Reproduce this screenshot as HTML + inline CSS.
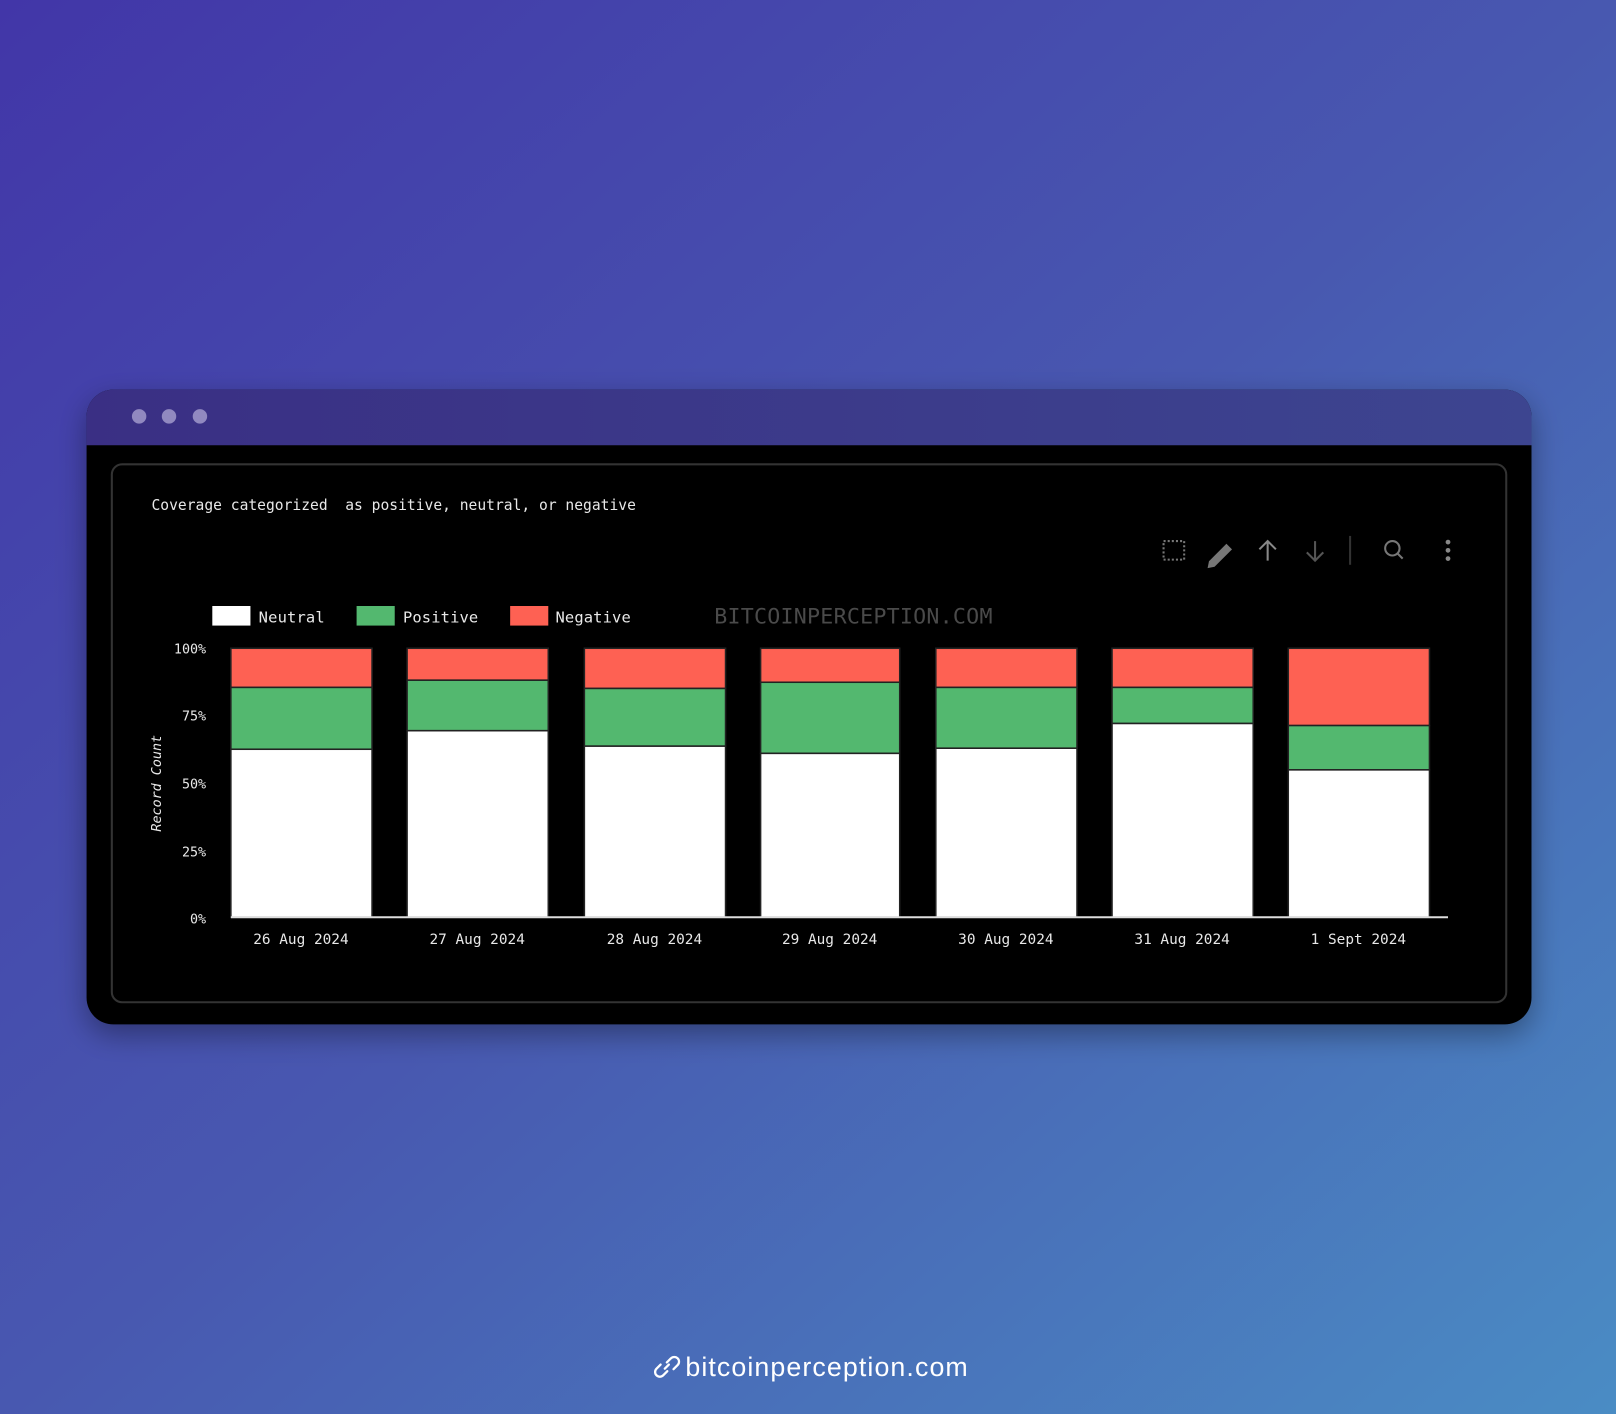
<!DOCTYPE html>
<html><head><meta charset="utf-8"><style>
html,body{margin:0;padding:0;width:1616px;height:1414px;overflow:hidden}
svg{display:block}
</style></head><body>
<svg width="1616" height="1414" viewBox="0 0 1568 1372" preserveAspectRatio="none" xmlns="http://www.w3.org/2000/svg">
<defs>
<linearGradient id="bg" x1="0" y1="0" x2="1" y2="1">
<stop offset="0" stop-color="#4236a8"/>
<stop offset="0.5" stop-color="#4858b0"/>
<stop offset="1" stop-color="#4a8cc4"/>
</linearGradient>
<linearGradient id="tb" x1="0" y1="0" x2="1" y2="0">
<stop offset="0" stop-color="#3a2f84"/>
<stop offset="1" stop-color="#3d4590"/>
</linearGradient>
<filter id="sh" x="-10%" y="-10%" width="120%" height="130%"><feDropShadow dx="0" dy="10" stdDeviation="14" flood-color="#000" flood-opacity="0.35"/></filter>
</defs>
<rect width="1568" height="1372" fill="url(#bg)"/>
<g filter="url(#sh)">
<rect x="84" y="378" width="1402" height="616" rx="26" fill="#000"/>
</g>
<path d="M84 432 V404 A26 26 0 0 1 110 378 H1460 A26 26 0 0 1 1486 404 V432 Z" fill="url(#tb)"/>
<circle cx="135" cy="404" r="7" fill="#9189c0"/>
<circle cx="164" cy="404" r="7" fill="#9189c0"/>
<circle cx="194" cy="404" r="7" fill="#9189c0"/>
<rect x="108.5" y="450.5" width="1353" height="522" rx="10" fill="none" stroke="#333" stroke-width="2"/>
<g font-family="'DejaVu Sans Mono','Liberation Mono',monospace" fill="#e8e8e8">
<text x="147" y="495" font-size="14.2" textLength="470">Coverage categorized&#160; as positive, neutral, or negative</text>
<g stroke="#777" fill="none" stroke-width="2">
<rect x="1129" y="525" width="20" height="18" stroke-dasharray="2 2"/>
<path d="M1174 545 L1190 529 L1194 533 L1178 549 L1173 550 Z" fill="#777"/>
<path d="M1230 544 V525 M1222 533 L1230 525 L1238 533" stroke="#888"/>
<path d="M1276 525 V544 M1268 536 L1276 544 L1284 536" stroke="#555"/>
<path d="M1310 520 V548" stroke="#333"/>
<circle cx="1351" cy="532" r="7"/><path d="M1356 537 L1361 542"/>
</g>
<circle cx="1405" cy="526" r="2.3" fill="#888"/><circle cx="1405" cy="534" r="2.3" fill="#888"/><circle cx="1405" cy="542" r="2.3" fill="#888"/>
<rect x="206" y="588" width="37" height="19" fill="#fff"/>
<rect x="346" y="588" width="37" height="19" fill="#53b86f"/>
<rect x="495" y="588" width="37" height="19" fill="#fe6153"/>
<g font-size="15">
<text x="251" y="604" textLength="64">Neutral</text>
<text x="391" y="604" textLength="73">Positive</text>
<text x="539" y="604" textLength="73">Negative</text>
</g>
<text x="693" y="605" font-size="21" fill="#4a4a4a" textLength="270">BITCOINPERCEPTION.COM</text>
<g font-size="13" text-anchor="end">
<text x="200" y="634">100%</text>
<text x="200" y="699">75%</text>
<text x="200" y="765">50%</text>
<text x="200" y="831">25%</text>
<text x="200" y="896">0%</text>
</g>
<text transform="translate(156 760) rotate(-90)" font-size="13" font-style="italic" text-anchor="middle">Record Count</text>
<g stroke="#222" stroke-width="1.5">
<rect x="224" y="629" width="137" height="38" fill="#fe6153"/><rect x="224" y="667" width="137" height="60" fill="#53b86f"/><rect x="224" y="727" width="137" height="163" fill="#fff"/>
<rect x="395" y="629" width="137" height="31" fill="#fe6153"/><rect x="395" y="660" width="137" height="49" fill="#53b86f"/><rect x="395" y="709" width="137" height="181" fill="#fff"/>
<rect x="567" y="629" width="137" height="39" fill="#fe6153"/><rect x="567" y="668" width="137" height="56" fill="#53b86f"/><rect x="567" y="724" width="137" height="166" fill="#fff"/>
<rect x="738" y="629" width="135" height="33" fill="#fe6153"/><rect x="738" y="662" width="135" height="69" fill="#53b86f"/><rect x="738" y="731" width="135" height="159" fill="#fff"/>
<rect x="908" y="629" width="137" height="38" fill="#fe6153"/><rect x="908" y="667" width="137" height="59" fill="#53b86f"/><rect x="908" y="726" width="137" height="164" fill="#fff"/>
<rect x="1079" y="629" width="137" height="38" fill="#fe6153"/><rect x="1079" y="667" width="137" height="35" fill="#53b86f"/><rect x="1079" y="702" width="137" height="188" fill="#fff"/>
<rect x="1250" y="629" width="137" height="75" fill="#fe6153"/><rect x="1250" y="704" width="137" height="43" fill="#53b86f"/><rect x="1250" y="747" width="137" height="143" fill="#fff"/>
</g>
<line x1="224" y1="890" x2="1405" y2="890" stroke="#ddd" stroke-width="2"/>
<g font-size="14" text-anchor="middle">
<text x="292" y="916">26 Aug 2024</text>
<text x="463" y="916">27 Aug 2024</text>
<text x="635" y="916">28 Aug 2024</text>
<text x="805" y="916">29 Aug 2024</text>
<text x="976" y="916">30 Aug 2024</text>
<text x="1147" y="916">31 Aug 2024</text>
<text x="1318" y="916">1 Sept 2024</text>
</g>
</g>
<g stroke="#fff" stroke-width="2.2" fill="none" stroke-linecap="round">
<path d="M641 1324 L637 1328 A4.5 4.5 0 0 0 643.5 1334.5 L647.5 1330.5"/>
<path d="M645 1328 L649 1324"/>
<path d="M647 1322 L651 1318 A4.5 4.5 0 0 1 657.5 1324.5 L653.5 1328.5"/>
</g>
<text x="665" y="1335" font-family="'Liberation Sans',sans-serif" font-size="26" fill="#fff" textLength="274">bitcoinperception.com</text>
</svg>
</body></html>
